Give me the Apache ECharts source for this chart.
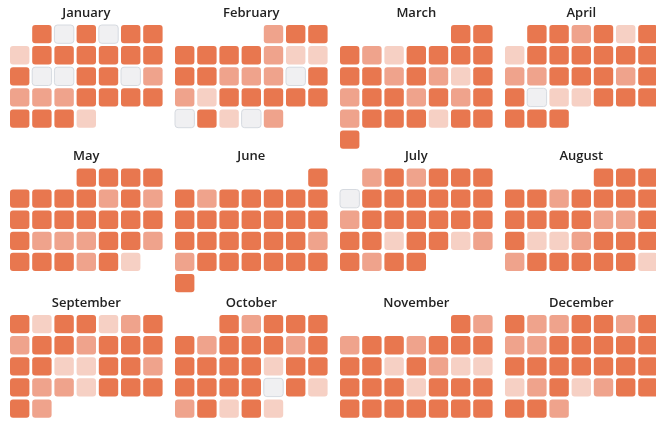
<!DOCTYPE html>
<html>
<head>
<meta charset="utf-8">
<script src="https://cdn.jsdelivr.net/npm/echarts@6/dist/echarts.min.js"></script>
<style>
  html, body { margin: 0; padding: 0; background: #fff; }
  #main { width: 656px; height: 421px; }
</style>
</head>
<body>
<div id="main"></div>
<script>
// 0 = no activity, 1 = light, 2 = medium, 3 = high
var year = 2024;
var monthNames = ['January', 'February', 'March', 'April', 'May', 'June',
  'July', 'August', 'September', 'October', 'November', 'December'];

var jan = [3,0,3,0,3,3, 1,3,3,3,3,3,3, 3,0,0,3,3,0,2, 2,2,2,3,3,3,3, 3,3,3,1];
var feb = [2,3,3, 3,3,3,3,2,1,1, 3,3,2,2,2,0,3, 2,1,3,3,3,3,3, 0,3,1,0,2];
var mar = [3,3, 3,2,1,3,3,3,3, 3,3,2,3,2,1,3, 2,3,3,2,3,2,3, 2,3,3,3,1,3,3, 3];
var apr = [3,3,2,3,1,3, 1,3,3,3,3,3,3, 2,2,3,3,3,2,3, 3,0,1,1,3,3,3, 3,3,3];
var may = [3,3,3,3, 3,3,3,3,2,3,2, 3,3,3,3,3,3,3, 3,2,2,2,3,3,2, 3,3,3,2,3,1];
var jun = [3, 3,2,3,3,3,3,3, 3,3,3,3,3,3,3, 3,3,3,3,3,3,2, 2,3,3,3,3,3,3, 3];
var jul = [2,3,2,3,3,3, 0,3,3,3,3,3,3, 2,3,3,3,3,3,3, 3,3,1,3,3,1,2, 3,2,3,3];
var aug = [3,3,3, 3,3,2,3,3,3,3, 3,3,3,3,2,2,3, 3,1,1,2,3,3,3, 2,3,3,3,3,3,1];
var sep = [3,1,3,3,1,2,3, 2,3,3,2,3,3,3, 3,3,1,1,3,3,2, 3,2,2,1,3,3,3, 3,2];
var oct = [3,2,3,3,3, 3,2,3,3,3,2,3, 3,3,3,3,1,3,3, 3,3,3,3,0,3,1, 2,3,1,3,1];
var nov = [3,2, 2,3,3,2,3,3,3, 3,3,1,3,2,1,1, 3,3,3,1,3,3,3, 3,3,3,3,3,3,3];
var dec = [3,2,2,3,3,2,3, 2,2,3,3,3,3,3, 3,3,3,3,3,3,3, 1,2,3,1,2,3,3, 3,3,2];

var months = [jan, feb, mar, apr, may, jun, jul, aug, sep, oct, nov, dec];
var levelColors = ['#f0f0f2', '#f6d0c4', '#efa38c', '#e8774f'];

var myChart = echarts.init(document.getElementById('main'));

var cellW = 22.2, cellH = 21.1;
var colLeft = [8.6, 173.6, 338.6, 503.6];
var rowTop = [23.6, 167, 313.6];

var calendars = [], titles = [], series = [];

function pad(n) { return n < 10 ? '0' + n : '' + n; }

months.forEach(function (vals, m) {
  var col = m % 4, row = Math.floor(m / 4);
  var mm = pad(m + 1);
  calendars.push({
    orient: 'vertical',
    range: year + '-' + mm,
    left: colLeft[col],
    top: rowTop[row],
    cellSize: [cellW, cellH],
    firstDay: 0,
    dayLabel: { show: false },
    monthLabel: { show: false },
    yearLabel: { show: false },
    splitLine: { show: false },
    itemStyle: { color: 'rgba(0,0,0,0)', borderWidth: 0 }
  });
  titles.push({
    text: monthNames[m],
    left: colLeft[col] + cellW * 3.5,
    top: rowTop[row] - 17,
    textAlign: 'center',
    padding: 0,
    textStyle: {
      fontFamily: 'Open Sans',
      fontWeight: 600,
      fontSize: 13,
      color: '#222'
    }
  });
  var data = vals.map(function (v, d) {
    return [year + '-' + mm + '-' + pad(d + 1), v];
  });
  series.push({
    type: 'custom',
    coordinateSystem: 'calendar',
    calendarIndex: m,
    data: data,
    renderItem: function (params, api) {
      var p = api.coord(api.value(0));
      var cw = params.coordSys.cellWidth, ch = params.coordSys.cellHeight;
      var inset = 1.4;
      var empty = api.value(1) === 0;
      return {
        type: 'rect',
        shape: {
          x: p[0] - cw / 2 + inset,
          y: p[1] - ch / 2 + inset,
          width: cw - inset * 2,
          height: ch - inset * 2,
          r: 3
        },
        style: {
          fill: api.visual('color'),
          stroke: empty ? '#d6dae0' : null,
          lineWidth: empty ? 1 : 0
        }
      };
    }
  });
});

var option = {
  backgroundColor: '#fff',
  animation: false,
  title: titles,
  visualMap: {
    type: 'piecewise',
    show: false,
    dimension: 1,
    pieces: [
      { value: 0, color: levelColors[0] },
      { value: 1, color: levelColors[1] },
      { value: 2, color: levelColors[2] },
      { value: 3, color: levelColors[3] }
    ]
  },
  calendar: calendars,
  series: series
};
myChart.setOption(option);
</script>
</body>
</html>
